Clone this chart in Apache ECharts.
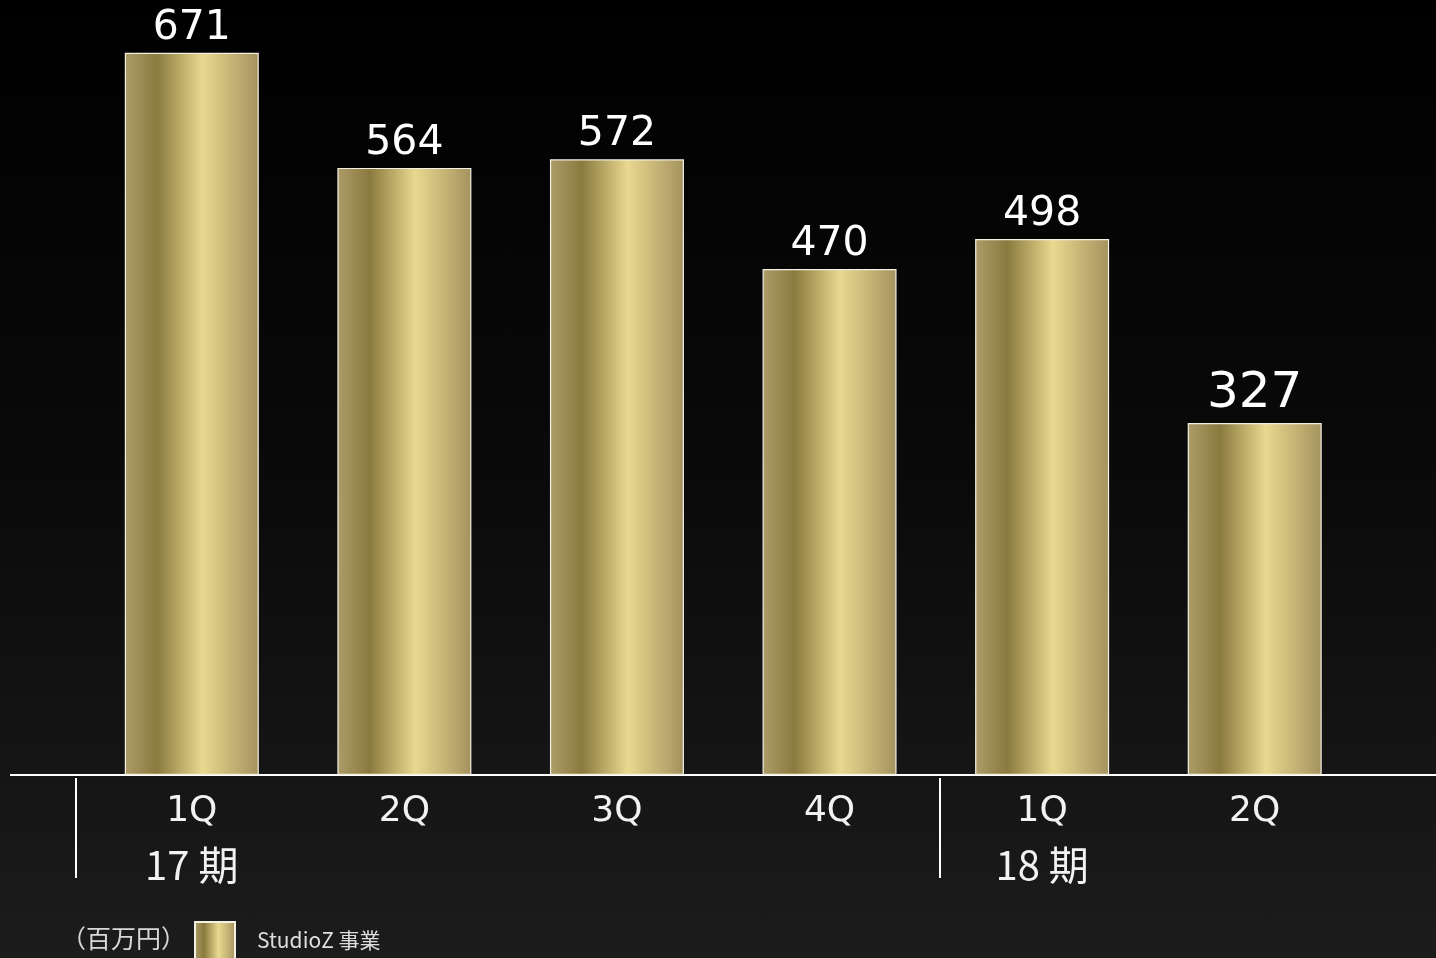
<!DOCTYPE html>
<html><head><meta charset="utf-8">
<script src="https://cdn.jsdelivr.net/npm/echarts@6/dist/echarts.min.js"></script>
<style>
html,body{margin:0;padding:0;width:1436px;height:958px;overflow:hidden;background:linear-gradient(to bottom,#000000 0%,#0a0a0a 50%,#1c1c1c 100%);}
#c{width:1436px;height:958px;}
</style></head><body><div id="c"></div>
<script>
const categories = ['1Q','2Q','3Q','4Q','1Q','2Q'];
const periods = ['17 期','','','','18 期',''];
const values = [671, 564, 572, 470, 498, 327];
const seriesName = 'StudioZ 事業';
const unitLabel = '（百万円）';

const chart = echarts.init(document.getElementById('c'));
const gold = new echarts.graphic.LinearGradient(0,0,1,0,[
  {offset:0,color:'#ad9c69'},
  {offset:0.24,color:'#8a7a3e'},
  {offset:0.58,color:'#e9d88f'},
  {offset:1,color:'#a4925e'}
]);
const font = '"DejaVu Sans", sans-serif';
chart.setOption({
  backgroundColor:'transparent',
  animation:false,
  title:{text:unitLabel,left:56,top:921,textStyle:{color:'#d8d8d8',fontSize:25,fontWeight:'normal',fontFamily:'"Noto Sans CJK JP", sans-serif'}},
  legend:{left:189,top:916,itemWidth:40,itemHeight:37,icon:'rect',
    data:[seriesName],
    textStyle:{color:'#dedede',fontSize:21,fontFamily:'"Noto Sans CJK JP", sans-serif',padding:[0,0,0,17]}},
  grid:{left:85.5,right:75,top:0,bottom:183},
  xAxis:{type:'category',data:categories.map((c,i)=>c+'_'+i),
    axisLine:{show:false},axisTick:{show:false},
    axisLabel:{margin:14,verticalAlign:'top',
      formatter:(v,i)=> periods[i] ? '{a|'+categories[i]+'}\n{b|'+periods[i]+'}' : '{a|'+categories[i]+'}',
      rich:{a:{fontSize:36,lineHeight:46,color:'#f2f2f2',fontFamily:font},
            b:{fontSize:40,lineHeight:60,color:'#f2f2f2',fontFamily:'"Noto Sans CJK JP", '+font}}}},
  yAxis:{type:'value',min:0,max:720,show:false,splitLine:{show:false}},
  series:[{type:'bar',name:seriesName,barWidth:134,
    data:values.map((v,i)=> i===5 ? {value:v,label:{fontSize:50}} : v),
    itemStyle:{color:gold,borderColor:'#f4f0e4',borderWidth:1.2},
    label:{show:true,position:'top',distance:4,color:'#ffffff',fontSize:41,fontFamily:font}
  }],
  graphic:[
    {type:'line',shape:{x1:10,y1:775,x2:1436,y2:775},style:{stroke:'#ffffff',lineWidth:2}},
    {type:'line',shape:{x1:76,y1:778,x2:76,y2:878},style:{stroke:'#ffffff',lineWidth:2}},
    {type:'line',shape:{x1:940,y1:778,x2:940,y2:878},style:{stroke:'#ffffff',lineWidth:2}}
  ]
});
</script></body></html>
